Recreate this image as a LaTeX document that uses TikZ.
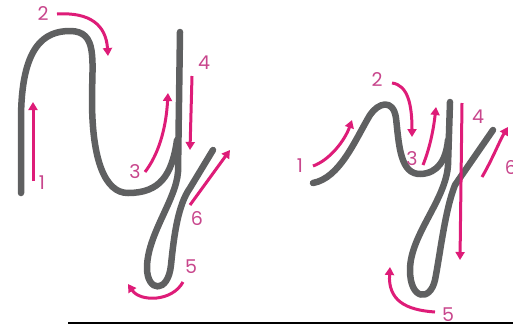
\documentclass[tikz,border=0pt]{standalone}
\usepackage{fontspec}
\setmainfont{Poppins}
\usetikzlibrary{arrows.meta}
\definecolor{strokegray}{RGB}{95,96,97}
\definecolor{guide}{RGB}{222,28,120}
\definecolor{labelpink}{RGB}{200,70,140}
\tikzset{
  letter/.style={draw=strokegray,line width=6.5pt,line cap=round,line join=round},
  guidearrow/.style={draw=guide,line width=3pt,-{Triangle[length=8pt,width=9pt]}},
  num/.style={text=labelpink,font=\fontsize{19}{19}\selectfont,inner sep=0pt},
}
\begin{document}
\begin{tikzpicture}[x=1pt,y=-1pt]
\useasboundingbox (0,0) rectangle (513,325);
% ---- left letter
\draw[letter] (21,193) -- (21,120) .. controls (21,45) and (45,31) .. (70,31)
  .. controls (98,31) and (92,60) .. (92,100)
  .. controls (92,160) and (105,193) .. (128,193)
  .. controls (160,193) and (172,175) .. (177,140);
\draw[letter] (180,32) -- (178,172) .. controls (176,200) and (147,235) .. (147,268)
  .. controls (147,292) and (168,294) .. (171,265)
  .. controls (174,235) and (178,205) .. (190,188) -- (213,150);
% arrows left
\draw[guidearrow] (33,181) -- (33,102);
\draw[guidearrow] (57,14) .. controls (90,12) and (106,25) .. (108,56);
\draw[guidearrow] (145,172) .. controls (158,155) and (166,130) .. (168,93);
\draw[guidearrow] (192,76) -- (190,150);
\draw[guidearrow] (183,282) .. controls (172,302) and (140,302) .. (128,284);
\draw[guidearrow] (190,205) -- (230,150);
\node[num] (l1) at (42,183) {1};
\node[num] (l2) at (43,14) {2};
\node[num] (l3) at (135,172) {3};
\node[num] (l4) at (204,63) {4};
\node[num] (l5) at (191,267) {5};
\node[num] (l6) at (197,218) {6};
% ---- right letter
\draw[letter] (313,183) .. controls (340,178) and (355,140) .. (370,115)
  .. controls (378,103) and (393,98) .. (396,118)
  .. controls (399,145) and (400,175) .. (421,174)
  .. controls (438,173) and (446,160) .. (448,140);
\draw[letter] (450,102) -- (448,165) .. controls (446,200) and (410,235) .. (410,270)
  .. controls (410,300) and (430,302) .. (435,280)
  .. controls (440,255) and (445,210) .. (455,185) -- (493,130);
% arrows right
\draw[guidearrow] (313,166) .. controls (330,160) and (345,140) .. (352,120);
\draw[guidearrow] (392,83) .. controls (408,85) and (412,105) .. (412,137);
\draw[guidearrow] (423,165) .. controls (431,145) and (434,125) .. (436,107);
\draw[guidearrow] (462,103) -- (460,260);
\draw[guidearrow] (435,312) .. controls (405,310) and (388,300) .. (390,267);
\draw[guidearrow] (482,177) .. controls (492,160) and (500,140) .. (508,127);
\node[num] (r1) at (300,166) {1};
\node[num] (r2) at (377,80) {2};
\node[num] (r3) at (412,159) {3};
\node[num] (r4) at (478,117) {4};
\node[num] (r5) at (448,315) {5};
\node[num] (r6) at (511,168) {6};
% baseline
\draw[line width=2pt,black] (68,323) -- (513,323);
\end{tikzpicture}
\end{document}
